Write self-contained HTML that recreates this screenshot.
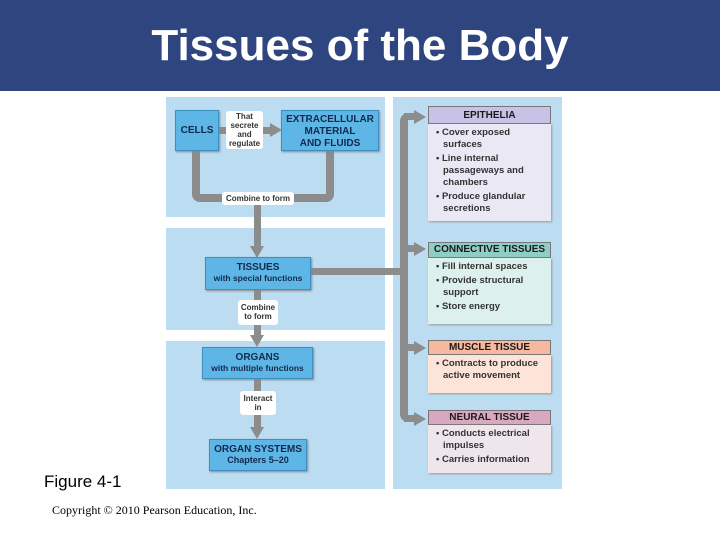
<!DOCTYPE html>
<html><head><style>
body{margin:0;width:720px;height:540px;background:#fff;position:relative;overflow:hidden;font-family:"Liberation Sans",sans-serif}
div{position:absolute;box-sizing:border-box}
.p{background:#bcdcf2}
.b{background:#5db6e6;border:1px solid #3d8fc0;box-shadow:1px 1px 2px #888;text-align:center;font-weight:bold;color:#13294b;font-size:10px;line-height:11px}
.l{background:#fff;border-radius:3px;text-align:center;font-weight:bold;color:#333;font-size:8px;line-height:9px}
.g{background:#8c8c8c}
.h{text-align:center;font-weight:bold;font-size:10px;color:#1a1a1a;border:1px solid #777;line-height:15px}
.bd{font-weight:bold;font-size:9.5px;color:#333;line-height:12px;padding:3px 3px 0 8px;box-shadow:1px 1px 2px #999}
.bd p{margin:0 0 2px 0;padding-left:7px;text-indent:-7px}
.ar{width:0;height:0;border-top:7px solid transparent;border-bottom:7px solid transparent;border-left:12px solid #8c8c8c}
.ad{width:0;height:0;border-left:7px solid transparent;border-right:7px solid transparent;border-top:12px solid #8c8c8c}
</style></head><body>
<div style="left:0;top:0;width:720px;height:91px;background:#2e4580"></div>
<div style="left:0;top:22px;width:720px;text-align:center;color:#fff;font-size:44px;font-weight:bold;line-height:48px">Tissues of the Body</div>

<div class="p" style="left:166px;top:97px;width:219px;height:120px"></div>
<div class="p" style="left:166px;top:228px;width:219px;height:102px"></div>
<div class="p" style="left:166px;top:341px;width:219px;height:148px"></div>
<div class="p" style="left:393px;top:97px;width:169px;height:392px"></div>

<div class="g" style="left:218px;top:127px;width:55px;height:7px"></div>
<div class="ar" style="left:270px;top:123px"></div>
<div class="g" style="left:192px;top:150px;width:8px;height:52px;border-bottom-left-radius:8px"></div>
<div class="g" style="left:192px;top:194px;width:142px;height:8px;border-radius:0 0 8px 8px"></div>
<div class="g" style="left:326px;top:150px;width:8px;height:52px;border-bottom-right-radius:8px"></div>
<div class="g" style="left:254px;top:200px;width:7px;height:48px"></div>
<div class="ad" style="left:250px;top:246px"></div>
<div class="g" style="left:254px;top:290px;width:7px;height:46px"></div>
<div class="ad" style="left:250px;top:335px"></div>
<div class="g" style="left:254px;top:379px;width:7px;height:50px"></div>
<div class="ad" style="left:250px;top:427px"></div>
<div class="g" style="left:311px;top:268px;width:95px;height:7px"></div>

<div class="g" style="left:400px;top:113px;width:8px;height:309px;border-radius:8px 0 0 8px"></div>
<div class="g" style="left:404px;top:113px;width:12px;height:7px"></div><div class="ar" style="left:414px;top:110px"></div>
<div class="g" style="left:404px;top:245px;width:12px;height:7px"></div><div class="ar" style="left:414px;top:242px"></div>
<div class="g" style="left:404px;top:344px;width:12px;height:7px"></div><div class="ar" style="left:414px;top:341px"></div>
<div class="g" style="left:404px;top:415px;width:12px;height:7px"></div><div class="ar" style="left:414px;top:412px"></div>

<div class="b" style="left:175px;top:110px;width:44px;height:41px;line-height:39px">CELLS</div>
<div class="l" style="left:226px;top:111px;width:37px;height:38px;padding-top:1px">That<br>secrete<br>and<br>regulate</div>
<div class="b" style="left:281px;top:110px;width:98px;height:41px;padding-top:3px;line-height:12px">EXTRACELLULAR<br>MATERIAL<br>AND FLUIDS</div>
<div class="l" style="left:222px;top:192px;width:72px;height:13px;line-height:13px">Combine to form</div>
<div class="b" style="left:205px;top:257px;width:106px;height:33px;padding-top:4px">TISSUES<br><span style="font-size:8.5px">with special functions</span></div>
<div class="l" style="left:238px;top:300px;width:40px;height:25px;padding-top:3px">Combine<br>to form</div>
<div class="b" style="left:202px;top:347px;width:111px;height:32px;padding-top:4px">ORGANS<br><span style="font-size:8.5px">with multiple functions</span></div>
<div class="l" style="left:240px;top:391px;width:36px;height:24px;padding-top:3px">Interact<br>in</div>
<div class="b" style="left:209px;top:439px;width:98px;height:32px;padding-top:4px">ORGAN SYSTEMS<br><span style="font-size:9px">Chapters 5–20</span></div>

<div class="h" style="left:428px;top:106px;width:123px;height:18px;background:#c8c2e6;line-height:17px">EPITHELIA</div>
<div class="bd" style="left:428px;top:124px;width:123px;height:97px;background:#ebe8f6"><p>• Cover exposed surfaces</p><p>• Line internal passageways and chambers</p><p>• Produce glandular secretions</p></div>
<div class="h" style="left:428px;top:242px;width:123px;height:16px;background:#8fcec4;line-height:14px">CONNECTIVE TISSUES</div>
<div class="bd" style="left:428px;top:258px;width:123px;height:66px;background:#dcf1ee"><p>• Fill internal spaces</p><p>• Provide structural support</p><p>• Store energy</p></div>
<div class="h" style="left:428px;top:340px;width:123px;height:15px;background:#f6b89e;line-height:13px">MUSCLE TISSUE</div>
<div class="bd" style="left:428px;top:355px;width:123px;height:38px;background:#fce4d9"><p>• Contracts to produce active movement</p></div>
<div class="h" style="left:428px;top:410px;width:123px;height:15px;background:#d9a8c0;line-height:13px">NEURAL TISSUE</div>
<div class="bd" style="left:428px;top:425px;width:123px;height:48px;background:#efe6ec"><p>• Conducts electrical impulses</p><p>• Carries information</p></div>

<div style="left:44px;top:472px;font-size:17px;color:#000">Figure 4-1</div>
<div style="left:52px;top:503px;font-family:'Liberation Serif',serif;font-size:12px;color:#000">Copyright © 2010 Pearson Education, Inc.</div>
</body></html>
